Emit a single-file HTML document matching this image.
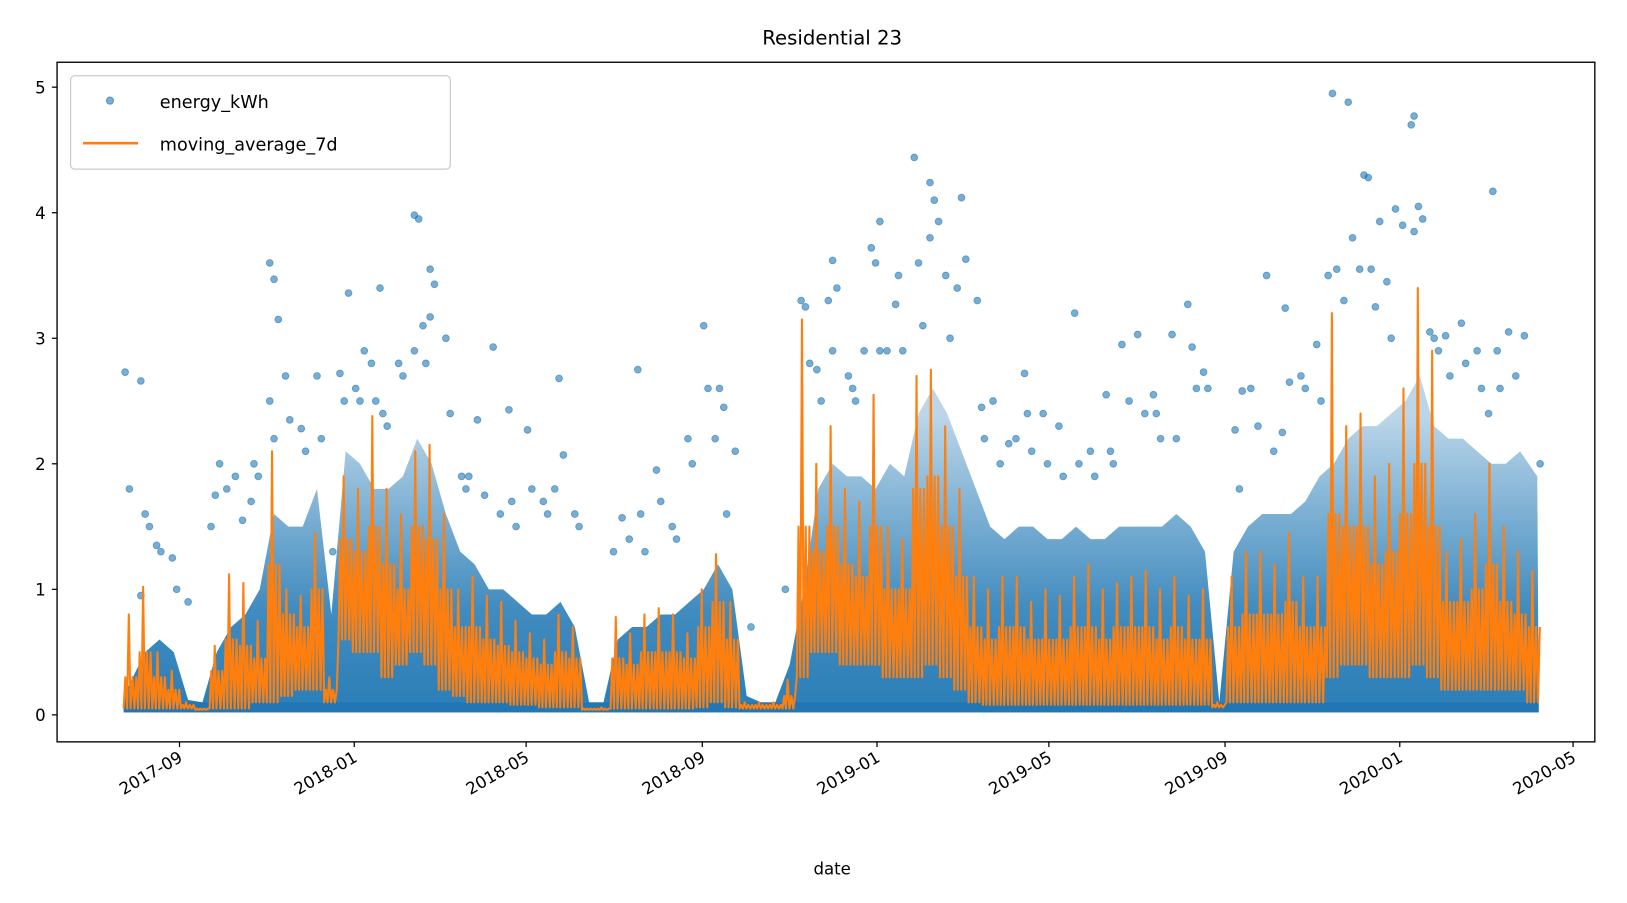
<!DOCTYPE html>
<html><head><meta charset="utf-8"><style>
html,body{margin:0;padding:0;background:#fff;overflow:hidden;}
svg{display:block;font-family:"DejaVu Sans","Liberation Sans",sans-serif;}
</style></head><body>
<svg id="chart" width="1627" height="903" viewBox="0 0 1568 870.3" preserveAspectRatio="none">
<defs>
<linearGradient id="bandGrad" gradientUnits="userSpaceOnUse" x1="0" y1="689" x2="0" y2="400">
<stop offset="0" stop-color="#1f77b4" stop-opacity="0.95"/>
<stop offset="0.35" stop-color="#1f77b4" stop-opacity="0.85"/>
<stop offset="0.65" stop-color="#1f77b4" stop-opacity="0.6"/>
<stop offset="1" stop-color="#1f77b4" stop-opacity="0.3"/>
</linearGradient>
<clipPath id="plotClip"><rect x="55" y="60" width="1482" height="655"/></clipPath>
</defs>
<text x="802" y="43" text-anchor="middle" font-size="19" fill="#000">Residential 23</text>
<g id="plot" clip-path="url(#plotClip)"></g>
<rect x="55" y="60" width="1482" height="655" fill="none" stroke="#000" stroke-width="1.3"/>
<g id="axes"></g>
<text x="802" y="843" text-anchor="middle" font-size="16" fill="#000">date</text>
<g>
<rect x="68" y="73" width="366" height="90" rx="4" fill="#fff" fill-opacity="0.8" stroke="#ccc" stroke-width="1.2"/>
<circle cx="106" cy="97" r="3.5" fill="#1f77b4" fill-opacity="0.6" stroke="#1f77b4" stroke-opacity="0.6"/>
<text x="154" y="104" font-size="17" fill="#000">energy_kWh</text>
<line x1="80" y1="138" x2="133" y2="138" stroke="#ff7f0e" stroke-width="2.5"/>
<text x="154" y="145" font-size="17" fill="#000">moving_average_7d</text>
</g>
</svg>
<script>
// per 10-day period starting 2017-07-24
const denseTop=[0.15,0.5,0.6,0.5,0.12,0.08,0.5,0.7,0.8,1.0,1.6,1.5,1.5,1.8,0.8,2.1,2.0,1.8,1.8,1.9,2.2,2.0,1.6,1.3,1.2,1.0,1.0,0.9,0.8,0.8,0.9,0.7,0.06,0.06,0.6,0.7,0.7,0.8,0.8,0.9,1.0,1.2,1.0,0.15,0.1,0.1,0.4,1.0,1.8,2.0,1.9,1.9,1.8,2.0,1.9,2.4,2.6,2.4,2.1,1.8,1.5,1.4,1.5,1.5,1.4,1.4,1.5,1.4,1.4,1.5,1.5,1.5,1.5,1.6,1.5,1.3,0.1,1.3,1.5,1.6,1.6,1.6,1.7,1.9,2.0,2.2,2.3,2.3,2.4,2.5,2.7,2.3,2.2,2.2,2.1,2.0,2.0,2.1,1.9];
const outliers=[[2.73,1.8],[2.66,1.6,1.5,0.95],[1.35,1.3],[1.25,1.0],[0.9],[],[2.0,1.5,1.75],[1.9,1.8],[1.7,1.55],[2.0,1.9],[3.6,3.47,3.15,2.5,2.2],[2.7,2.35],[2.28,2.1],[2.7,2.2],[1.3],[3.36,2.72,2.5],[2.9,2.6,2.5],[3.4,2.8,2.5],[2.4,2.3],[2.8,2.7],[3.98,3.95,3.1,2.9],[3.55,3.43,2.8,3.17],[3.0,2.4],[1.9,1.8],[2.35,1.9],[2.93,1.75],[2.43,1.6],[1.7,1.5],[2.27,1.8],[1.7,1.6],[2.68,2.07,1.8],[1.6,1.5],[],[],[1.57,1.3],[2.75,1.4],[1.6,1.3],[1.95,1.7],[1.5,1.4],[2.2,2.0],[3.1,2.6],[2.6,2.45,2.2],[2.1,1.6],[0.7],[],[],[1.0],[3.3,3.25,2.8],[2.75,2.5],[3.62,3.4,3.3,2.9],[2.7,2.6],[2.9,2.5],[3.93,3.72,3.6,2.9],[3.27,2.9],[3.5,2.9],[4.44,3.6,3.1],[4.24,4.1,3.93,3.8],[3.5,3.0],[4.12,3.63,3.4],[3.3,2.45],[2.5,2.2],[2.16,2.0],[2.72,2.2],[2.4,2.1],[2.4,2.0],[2.3,1.9],[3.2,2.0],[2.1,1.9],[2.55,2.1],[2.95,2.0],[3.03,2.5],[2.55,2.4],[2.4,2.2],[3.03,2.2],[3.27,2.93,2.6],[2.73,2.6],[],[2.27,1.8],[2.6,2.58],[3.5,2.3],[2.25,2.1],[3.24,2.65],[2.7,2.6],[2.95,2.5],[4.95,3.55,3.5],[4.88,3.8,3.3],[4.3,4.28,3.55],[3.93,3.55,3.25],[4.03,3.45,3.0],[4.7,3.9],[4.77,4.05,3.95,3.85],[3.05,3.0,2.9],[3.02,2.7],[3.12,2.8],[2.9,2.6],[4.17,2.9,2.4],[3.05,2.6],[3.02,2.7],[2.0]];
const maHigh=[0.8,1.02,0.5,0.35,0.1,0.05,0.55,1.12,1.05,0.75,2.1,1.0,0.95,1.45,0.3,1.9,1.8,2.38,1.8,1.6,2.1,2.15,1.6,1.0,1.1,0.95,0.9,0.75,0.65,0.6,0.8,0.7,0.05,0.06,0.78,0.65,0.8,0.85,0.8,0.65,1.0,1.28,0.9,0.1,0.1,0.1,0.28,3.15,2.0,2.3,1.8,1.7,2.55,1.5,1.4,2.7,2.75,2.3,1.8,1.1,1.0,1.1,1.1,0.9,1.0,0.95,1.1,1.2,1.0,1.05,1.1,1.15,1.0,1.1,0.95,1.0,0.1,1.1,1.3,1.3,1.2,1.45,1.1,1.1,3.2,2.3,2.4,1.9,2.0,2.6,3.4,2.9,1.3,1.4,1.6,2.0,1.5,1.3,1.15];
const maMid=[0.3,0.5,0.3,0.2,0.08,0.05,0.35,0.6,0.55,0.45,1.2,0.8,0.7,1.0,0.2,1.4,1.3,1.5,1.2,1.0,1.5,1.4,1.0,0.7,0.7,0.6,0.55,0.5,0.45,0.4,0.5,0.45,0.05,0.05,0.45,0.4,0.5,0.5,0.5,0.45,0.7,0.9,0.6,0.08,0.08,0.08,0.15,1.5,1.3,1.5,1.2,1.1,1.5,1.0,1.0,1.8,1.9,1.5,1.1,0.7,0.6,0.7,0.7,0.6,0.6,0.6,0.7,0.7,0.6,0.7,0.7,0.7,0.6,0.7,0.6,0.6,0.08,0.7,0.8,0.8,0.8,0.9,0.7,0.7,1.6,1.5,1.5,1.2,1.3,1.6,2.0,1.5,0.9,0.9,1.0,1.2,0.9,0.8,0.7];
const maLow=[0.05,0.05,0.05,0.05,0.05,0.04,0.05,0.05,0.05,0.1,0.1,0.15,0.2,0.2,0.1,0.6,0.5,0.5,0.3,0.4,0.5,0.4,0.2,0.15,0.1,0.1,0.1,0.08,0.08,0.06,0.06,0.06,0.04,0.04,0.05,0.05,0.05,0.05,0.05,0.05,0.06,0.1,0.06,0.05,0.05,0.05,0.05,0.3,0.5,0.5,0.4,0.4,0.4,0.3,0.3,0.3,0.4,0.3,0.2,0.1,0.08,0.08,0.08,0.08,0.08,0.08,0.08,0.08,0.08,0.08,0.08,0.08,0.08,0.08,0.08,0.08,0.06,0.1,0.1,0.1,0.1,0.1,0.1,0.1,0.3,0.4,0.4,0.3,0.3,0.3,0.4,0.3,0.2,0.2,0.2,0.2,0.2,0.2,0.1];
const yTicks=[0,1,2,3,4,5];
const xTickLabels=["2017-09","2018-01","2018-05","2018-09","2019-01","2019-05","2019-09","2020-01","2020-05"];
const xTickDays=[39,161,281,404,526,646,769,891,1012];

const NS="http://www.w3.org/2000/svg";
const xS=d=>173+(d-39)*1.3803;
const yS=v=>689-v*121;
const plot=document.getElementById('plot'), axes=document.getElementById('axes');
function mk(tag,attrs,parent){const e=document.createElementNS(NS,tag);for(const k in attrs)e.setAttribute(k,attrs[k]);parent.appendChild(e);return e;}

let pts=[];
pts.push(xS(0)+','+yS(0.02));
denseTop.forEach((v,i)=>{const d=i*10+(i===denseTop.length-1?7:5);pts.push(xS(i===0?0:d)+','+yS(Math.max(v,0.1)));});
pts.push(xS(988)+','+yS(0.1));pts.push(xS(988)+','+yS(0.02));
const band=mk('polygon',{points:pts.join(' '),fill:'url(#bandGrad)'},plot);


const base=mk('rect',{x:xS(0),y:yS(0.1),width:xS(988)-xS(0),height:yS(0.02)-yS(0.1),fill:'#1f77b4','fill-opacity':0.9},plot);


outliers.forEach((arr,i)=>{arr.forEach((v,j)=>{
  const d=i*10+1+((j*3+i)%9);
  const c=mk('circle',{cx:xS(d),cy:yS(v),r:3.3,fill:'#1f77b4','fill-opacity':0.6,stroke:'#1f77b4','stroke-opacity':0.6,'stroke-width':0.8},plot);
  
  
});});
let lp=[];
maHigh.forEach((h,i)=>{
  const b=i*10;
  lp.push(xS(b)+','+yS(maLow[i]));
  lp.push(xS(b+1.2)+','+yS(maMid[i]));
  lp.push(xS(b+2.4)+','+yS(maLow[i]));
  lp.push(xS(b+3.6)+','+yS(h));
  lp.push(xS(b+4.8)+','+yS(maLow[i]));
  lp.push(xS(b+6.2)+','+yS(maMid[i]));
  lp.push(xS(b+7.5)+','+yS(maLow[i]));
  lp.push(xS(b+8.8)+','+yS(maMid[i]));
});
const line=mk('polyline',{points:lp.join(' '),fill:'none',stroke:'#ff7f0e','stroke-width':2,'stroke-linejoin':'round'},plot);



yTicks.forEach(t=>{
  const tk=mk('line',{x1:50,x2:55,y1:yS(t),y2:yS(t),stroke:'#000','stroke-width':1.2},axes);
  
  
  const tx=mk('text',{x:44,y:yS(t)+6,'text-anchor':'end','font-size':16,fill:'#000'},axes);
  tx.textContent=t;
  
  
});
xTickDays.forEach((d,i)=>{
  const x=xS(d);
  const tk=mk('line',{x1:x,x2:x,y1:715,y2:720,stroke:'#000','stroke-width':1.2},axes);
  
  
  const tx=mk('text',{x:x+4,y:733,'text-anchor':'end','font-size':16,fill:'#000',transform:'rotate(-30 '+(x+4)+' 733)'},axes);
  tx.textContent=xTickLabels[i];
  
  
});
</script>
</body></html>
